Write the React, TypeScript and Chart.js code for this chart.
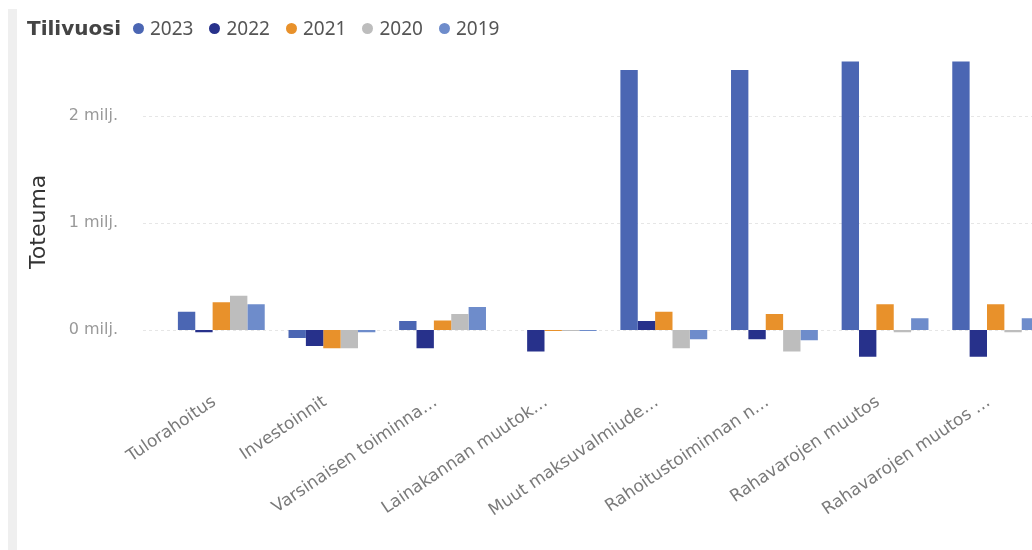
import React, { useEffect, useRef } from "react";
import { Chart, registerables } from "chart.js";

Chart.register(...registerables);

const categories = [
  "Tulorahoitus",
  "Investoinnit",
  "Varsinaisen toiminna…",
  "Lainakannan muutok…",
  "Muut maksuvalmiude…",
  "Rahoitustoiminnan n…",
  "Rahavarojen muutos",
  "Rahavarojen muutos …",
];

const years = ["2023", "2022", "2021", "2020", "2019"];
const yearColors = ["#4B66B3", "#27318B", "#E8912B", "#BDBDBD", "#6E8CCB"];

// values in millions (milj.)
const v2023 = [0.17, -0.075, 0.085, 0.0, 2.43, 2.43, 2.51, 2.51];
const v2022 = [-0.02, -0.15, -0.17, -0.2, 0.085, -0.085, -0.25, -0.25];
const v2021 = [0.26, -0.17, 0.09, -0.01, 0.17, 0.15, 0.24, 0.24];
const v2020 = [0.32, -0.17, 0.15, -0.01, -0.17, -0.2, -0.02, -0.02];
const v2019 = [0.24, -0.02, 0.215, -0.01, -0.085, -0.095, 0.11, 0.11];
const seriesValues = [v2023, v2022, v2021, v2020, v2019];

const yTicks = [0, 1, 2];
const yUnit = "milj.";
const yTitle = "Toteuma";
const legendTitle = "Tilivuosi";

const gridPlugin = {
  id: "hgrid",
  beforeDatasetsDraw(chart: any) {
    const { ctx, width } = chart;
    const y = chart.scales.y;
    ctx.save();
    ctx.strokeStyle = "#e6e6e6";
    ctx.lineWidth = 1;
    ctx.setLineDash([3, 3]);
    yTicks.forEach((t) => {
      const py = Math.round(y.getPixelForValue(t)) + 0.5;
      ctx.beginPath();
      ctx.moveTo(143, py);
      ctx.lineTo(width, py);
      ctx.stroke();
    });
    ctx.restore();
  },
};

export default function App() {
  const canvasRef = useRef<HTMLCanvasElement | null>(null);

  useEffect(() => {
    if (!canvasRef.current) return;
    const chart = new Chart(canvasRef.current, {
      type: "bar",
      data: {
        labels: categories,
        datasets: years.map((yr, i) => ({
          label: yr,
          data: seriesValues[i],
          backgroundColor: yearColors[i],
          borderWidth: 0,
          categoryPercentage: 0.785,
          barPercentage: 1.0,
        })),
      },
      options: {
        responsive: false,
        animation: false,
        layout: { padding: { left: 22, top: 42, right: 0, bottom: 0 } },
        plugins: {
          legend: { display: false },
          tooltip: { enabled: false },
        },
        scales: {
          x: {
            grid: { display: false, drawTicks: false },
            border: { display: false },
            ticks: {
              autoSkip: false,
              minRotation: 34,
              maxRotation: 34,
              padding: 6,
              labelOffset: -7,
              color: "#7a7a7a",
              font: { family: "'DejaVu Sans'", size: 17 },
            },
            afterFit: (scale: any) => {
              scale.height = 164;
            },
          },
          y: {
            min: -0.523,
            max: 2.546,
            grid: { display: false, drawTicks: false },
            border: { display: false },
            ticks: {
              padding: 48,
              color: "#999999",
              font: { family: "'DejaVu Sans'", size: 16 },
              callback: (v: any) => `${v} ${yUnit}`,
            },
            afterBuildTicks: (scale: any) => {
              scale.ticks = yTicks.map((v) => ({ value: v }));
            },
            afterFit: (scale: any) => {
              scale.width = 144;
            },
            title: {
              display: true,
              text: yTitle,
              color: "#333333",
              font: { family: "'DejaVu Sans'", size: 22 },
              padding: { top: 4, bottom: 0 },
            },
          },
        },
      },
      plugins: [gridPlugin],
    });
    return () => chart.destroy();
  }, []);

  return (
    <div
      style={{
        position: "fixed",
        left: 0,
        top: 0,
        width: 1032,
        height: 550,
        overflow: "hidden",
        background: "#ffffff",
      }}
    >
      <div
        style={{
          position: "absolute",
          left: 8,
          top: 9,
          width: 9,
          bottom: 0,
          background: "#efefef",
        }}
      />
      <canvas
        ref={canvasRef}
        width={1051}
        height={550}
        style={{ position: "absolute", left: 0, top: 0, display: "block" }}
      />
      <div
        style={{
          position: "absolute",
          left: 27,
          top: 14,
          height: 28,
          display: "flex",
          alignItems: "center",
          whiteSpace: "nowrap",
        }}
      >
        <span
          style={{
            fontFamily: "'DejaVu Sans'",
            fontWeight: "bold",
            fontSize: 20,
            color: "#444444",
            marginRight: 12,
          }}
        >
          {legendTitle}
        </span>
        {years.map((yr, i) => (
          <span
            key={yr}
            style={{ display: "flex", alignItems: "center", marginRight: 16 }}
          >
            <span
              style={{
                width: 11,
                height: 11,
                borderRadius: "50%",
                background: yearColors[i],
                display: "inline-block",
                marginRight: 6,
              }}
            />
            <span
              style={{
                fontFamily: "'Noto Sans'",
                fontSize: 19,
                color: "#555555",
              }}
            >
              {yr}
            </span>
          </span>
        ))}
      </div>
    </div>
  );
}
